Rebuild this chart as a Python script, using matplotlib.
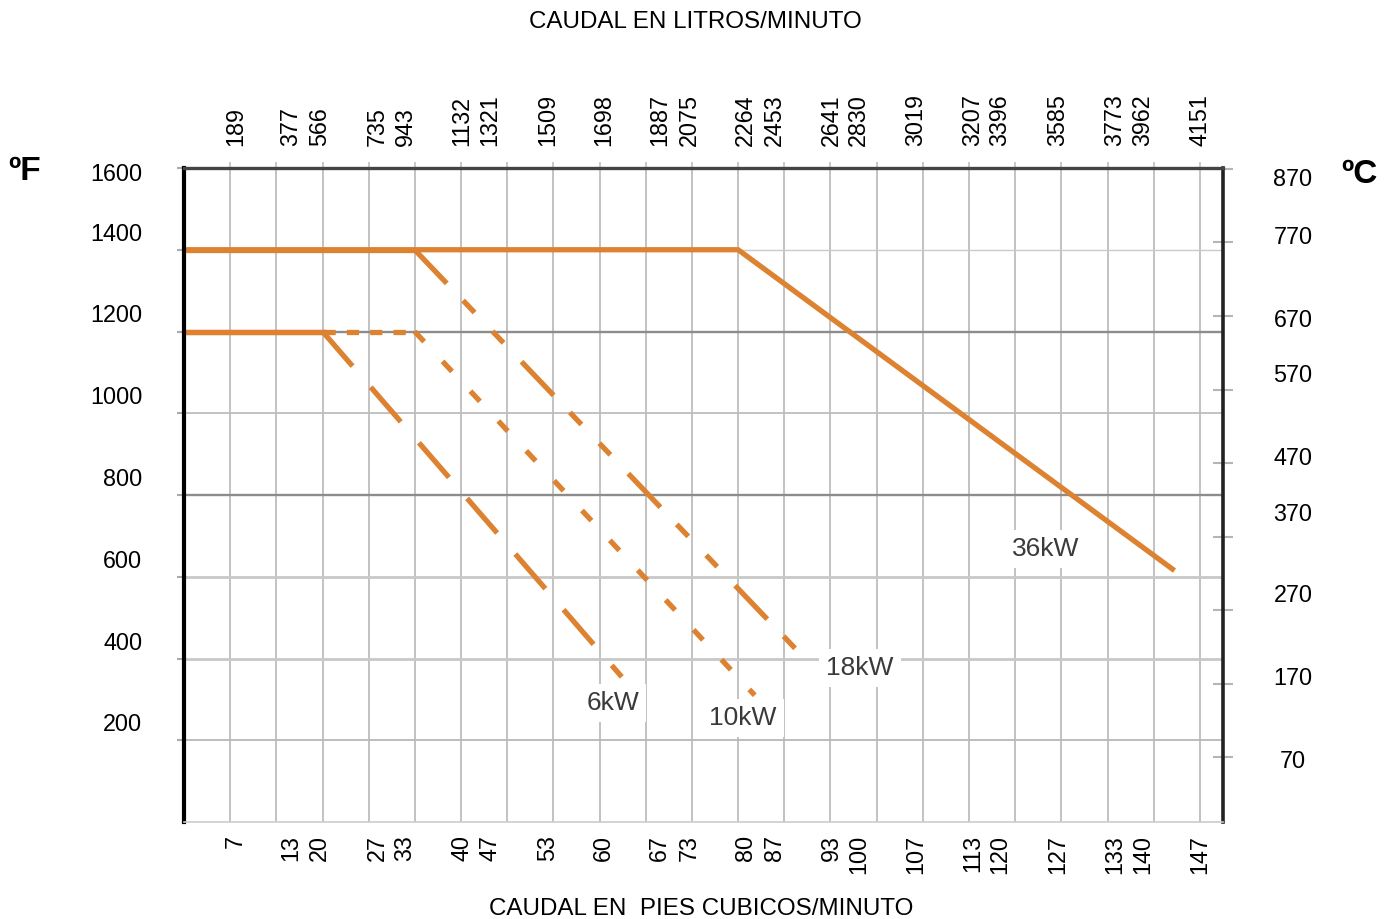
import matplotlib
matplotlib.use("Agg")
import matplotlib.pyplot as plt
import matplotlib.transforms as mtransforms

plt.rcParams['font.family'] = ['Liberation Sans', 'DejaVu Sans']
plt.rcParams['lines.scale_dashes'] = False

# ---------------- data ----------------
# bottom axis (cubic feet / minute) and top axis (litres / minute) labels
cfm_labels = ["7", "13", "20", "27", "33", "40", "47", "53", "60", "67", "73",
              "80", "87", "93", "100", "107", "113", "120", "127", "133", "140", "147"]
lpm_labels = ["189", "377", "566", "735", "943", "1132", "1321", "1509", "1698", "1887",
              "2075", "2264", "2453", "2641", "2830", "3019", "3207", "3396", "3585",
              "3773", "3962", "4151"]
# where the flow labels sit on the flow scale (cfm)
flow_label_pos = [7.4, 15.4, 19.6, 27.9, 31.9, 40.1, 44.2, 52.5, 60.6, 68.7, 72.9,
                  81.0, 85.2, 93.4, 97.4, 105.7, 113.8, 117.8, 126.2, 134.4, 138.4, 146.7]

f_ticks = [200, 400, 600, 800, 1000, 1200, 1400, 1600]
c_labels = ["870", "770", "670", "570", "470", "370", "270", "170", "70"]
c_label_pos_f = [1573, 1431, 1228, 1093, 890, 753, 553, 352, 149]
c_ticks = [870, 770, 670, 570, 470, 370, 270, 170, 70]

# heater curves: flow (cfm) vs outlet temperature (°F)
x_36kw = [0, 80, 143]
f_36kw = [1400, 1400, 615]
x_18kw = [0, 33.3, 88.5]
f_18kw = [1400, 1400, 420]
x_10kw = [0, 20, 33.3, 82.4]
f_10kw = [1200, 1200, 1200, 310]
x_6kw = [0, 20, 63.2]
f_6kw = [1200, 1200, 355]

kw_names = ["36kW", "18kW", "10kW", "6kW"]
kw_label_x = [124.4, 97.6, 80.7, 61.9]
kw_label_f = [668, 377, 254, 291]

# ---------------- figure ----------------
fig = plt.figure(figsize=(13.93, 9.19), dpi=100)
ax = fig.add_axes([184 / 1393, 97 / 919, 1039 / 1393, 654 / 919])
ax.set_xlim(0, 150)
ax.set_ylim(0, 1600)

orange = '#DC8230'
lw = 3.8

# vertical grid lines (every 189 l/min = 6.67 cfm)
grid_x = [k * 20 / 3 for k in range(1, 23)]
for gx in grid_x:
    ax.axvline(gx, color='#bdbdbd', lw=1.3, zorder=1)

# horizontal grid lines
hgrid_style = {1400: ('#cacaca', 1.0), 1200: ('#8c8c8c', 1.7), 1000: ('#bdbdbd', 1.3),
               800: ('#8c8c8c', 1.7), 600: ('#c8c8c8', 2.0), 400: ('#c8c8c8', 2.0),
               200: ('#b8b8b8', 1.3)}
for lev, (col, w) in hgrid_style.items():
    ax.axhline(lev, color=col, lw=w, zorder=1)

# curves
ax.plot(x_36kw, f_36kw, color=orange, lw=lw, solid_capstyle='butt', zorder=3)
ax.plot(x_18kw[:2], f_18kw[:2], color=orange, lw=lw, zorder=3)
ax.plot(x_18kw[1:], f_18kw[1:], color=orange, lw=lw, zorder=3,
        dashes=(33.5, 17, 12, 18.7, 11.5, 18.7))
ax.plot(x_10kw[:2], f_10kw[:2], color=orange, lw=lw, zorder=3)
ax.plot(x_10kw[1:3], f_10kw[1:3], color=orange, lw=lw, zorder=3, dashes=(8.8, 8.0))
ax.plot(x_10kw[2:], f_10kw[2:], color=orange, lw=lw, zorder=3, dashes=(10, 19.4))
ax.plot(x_6kw[:2], f_6kw[:2], color=orange, lw=lw, zorder=3)
ax.plot(x_6kw[1:], f_6kw[1:], color=orange, lw=lw, zorder=3, dashes=(33, 20))

# curve labels
for name, lx, lf in zip(kw_names, kw_label_x, kw_label_f):
    ax.text(lx, lf, name, fontsize=19, color='#3a3a3a', ha='center', va='center',
            zorder=4, bbox=dict(facecolor='white', edgecolor='none', pad=5))

# spines
ax.spines['left'].set_color('black')
ax.spines['left'].set_linewidth(3.0)
ax.spines['top'].set_color('#444444')
ax.spines['top'].set_linewidth(2.4)
ax.spines['right'].set_color('#222222')
ax.spines['right'].set_linewidth(2.6)
ax.spines['bottom'].set_color('#cccccc')
ax.spines['bottom'].set_linewidth(1.2)
for s in ax.spines.values():
    s.set_zorder(5)

# left (°F) axis
ax.set_yticks(f_ticks)
ax.set_yticklabels([str(v) for v in f_ticks])
ax.tick_params(axis='y', which='major', left=True, right=False, length=5, width=1.5,
               color='#aaaaaa', pad=25, labelsize=16.8)
for tick, val in zip(ax.yaxis.get_major_ticks(), f_ticks):
    dy = -4 if val == 1600 else 18
    off = mtransforms.ScaledTranslation(0, dy / 100, fig.dpi_scale_trans)
    tick.label1.set_transform(tick.label1.get_transform() + off)

# bottom (cfm) labels
ax.set_xticks(flow_label_pos)
ax.set_xticklabels(cfm_labels, rotation=90)
ax.tick_params(axis='x', which='major', bottom=True, top=False, length=0, pad=9.5,
               labelsize=16.8)
# small top ticks at grid lines
ax.set_xticks(grid_x, minor=True)
ax.tick_params(axis='x', which='minor', bottom=False, top=True, length=4, width=1.2,
               color='#c0c0c0')

# top (l/min) labels
secx = ax.secondary_xaxis('top')
secx.set_xticks(flow_label_pos)
secx.set_xticklabels(lpm_labels, rotation=90)
secx.tick_params(length=0, pad=16, labelsize=16.8)
secx.spines['top'].set_visible(False)

# right (°C) axis: tick marks at true conversions, labels as printed
def f2c(f):
    return (f - 32) * 5 / 9

def c2f(c):
    return c * 9 / 5 + 32

secy = ax.secondary_yaxis('right', functions=(f2c, c2f))
secy.set_yticks(c_ticks)
secy.set_yticklabels([''] * len(c_ticks))
secy.tick_params(direction='inout', length=15, width=1.5, color='#b5b5b5')
secy.spines['right'].set_visible(False)

trans = mtransforms.blended_transform_factory(ax.transAxes, ax.transData)
for lab, pos in zip(c_labels, c_label_pos_f):
    ax.text((1293 - 184) / 1039, pos, lab, transform=trans, ha='center', va='center',
            fontsize=16.8, clip_on=False)

# unit symbols and axis titles
fig.text(25 / 1393, 1 - 171 / 919, 'ºF', fontsize=24, fontweight='bold',
         ha='center', va='center')
fig.text(1359 / 1393, 1 - 174 / 919, 'ºC', fontsize=24, fontweight='bold',
         ha='center', va='center')
fig.text(695 / 1393, 1 - 22 / 919, 'CAUDAL EN LITROS/MINUTO', fontsize=17.4,
         ha='center', va='center')
fig.text(701 / 1393, 1 - 909 / 919, 'CAUDAL EN  PIES CUBICOS/MINUTO', fontsize=17.4,
         ha='center', va='center')

fig.savefig('out.png', dpi=100)
